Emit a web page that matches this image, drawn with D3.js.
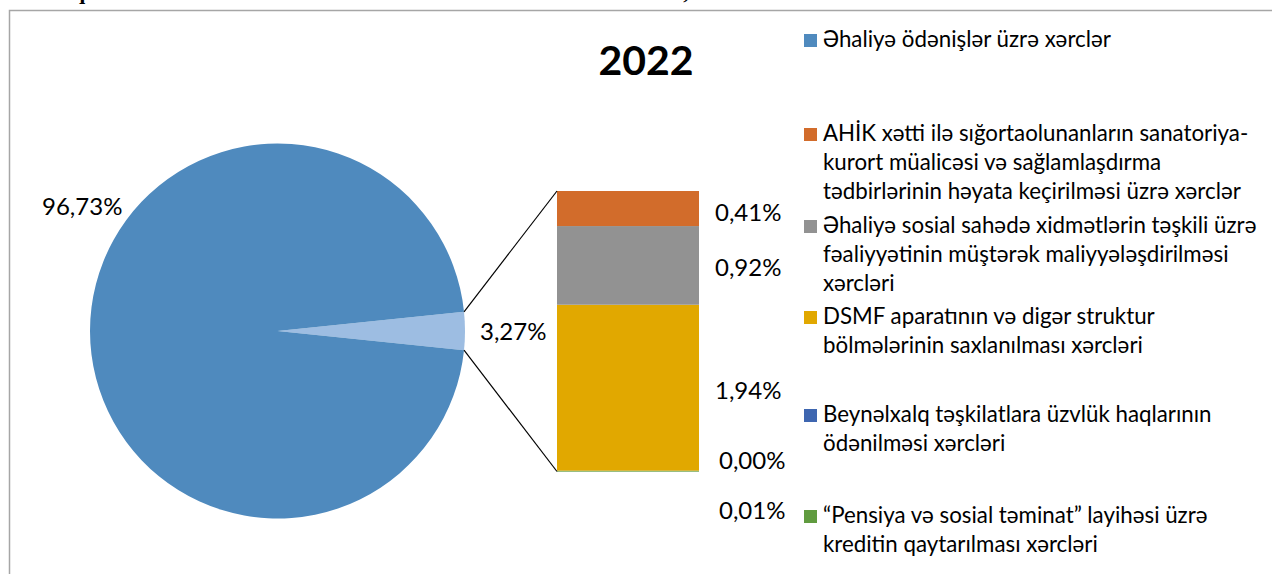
<!DOCTYPE html>
<html>
<head>
<meta charset="utf-8">
<script src="https://cdn.jsdelivr.net/npm/d3@7"></script>
<style>
  html, body { margin: 0; padding: 0; background: #fff; }
  svg { display: block; }
</style>
</head>
<body>
<svg id="svg"></svg>
<script>
// values (percent of total expenses, 2022)
var pieNames = ["Əhaliyə ödənişlər üzrə xərclər", "Digər"];
var pieValues = [96.73, 3.27];
var pieLabels = ["96,73%", "3,27%"];

var barNames = ["orange", "gray", "yellow", "blue", "green"];
var barValues = [0.41, 0.92, 1.94, 0.00, 0.01];
var barLabels = ["0,41%", "0,92%", "1,94%", "0,00%", "0,01%"];

var legendLines = [
    ["Əhaliyə ödənişlər üzrə xərclər"],
    ["AHİK xətti ilə sığortaolunanların sanatoriya-", "kurort müalicəsi və sağlamlaşdırma", "tədbirlərinin həyata keçirilməsi üzrə xərclər"],
    ["Əhaliyə sosial sahədə xidmətlərin təşkili üzrə", "fəaliyyətinin müştərək maliyyələşdirilməsi", "xərcləri"],
    ["DSMF aparatının və digər struktur", "bölmələrinin saxlanılması xərcləri"],
    ["Beynəlxalq təşkilatlara üzvlük haqlarının", "ödənilməsi xərcləri"],
    ["“Pensiya və sosial təminat” layihəsi üzrə", "kreditin qaytarılması xərcləri"]
];
var legendColors = ["#4f8abe", "#d26c2b", "#929292", "#e1a800", "#3e66b0", "#609b3f"];

var width = 1272, height = 574;
var svg = d3.select("#svg").attr("width", width).attr("height", height);

// heading of the page, mostly cut off at the top
svg.append("text")
    .attr("x", 40).attr("y", -1)
    .attr("font-family", "Liberation Serif").attr("font-weight", "bold")
    .attr("font-size", 22)
    .text("Diaqram 4.1. Dövlət Sosial Müdafiə Fondunun xərclərinin strukturu, faizlə");

// chart frame
svg.append("path")
    .attr("d", "M9.5," + height + "V10.5H" + width)
    .attr("fill", "none").attr("stroke", "#a6a6a6").attr("stroke-width", 1.5);

svg.append("text")
    .attr("x", 646).attr("y", 75)
    .attr("text-anchor", "middle")
    .attr("font-family", "Lato").attr("font-weight", "bold").attr("font-size", 41)
    .text("2022");

//////////////////////////////////////////////////////////////////////////////
// pie
var cx = 277.5, cy = 331, r = 187.5;
var total = d3.sum(pieValues);
var smallAngle = pieValues[1] / total * 2 * Math.PI;
var a0 = Math.PI / 2 - smallAngle / 2;

var pie = d3.pie().sort(null).startAngle(a0).endAngle(a0 + 2 * Math.PI);
var arcs = pie([pieValues[1], pieValues[0]]);
var arc = d3.arc().innerRadius(0).outerRadius(r);

var pg = svg.append("g").attr("transform", "translate(" + cx + "," + cy + ")");
pg.selectAll("path")
    .data(arcs)
    .enter()
    .append("path")
    .attr("d", arc)
    .attr("fill", function(d, i) { return i === 0 ? "#9dbde2" : "#4f8abe"; });

var labelFont = function(sel) {
    sel.attr("font-family", "Lato").attr("font-size", 24).attr("fill", "#000");
};

svg.append("text").call(labelFont)
    .attr("x", 42).attr("y", 215)
    .text(pieLabels[0]);
svg.append("text").call(labelFont)
    .attr("x", 480).attr("y", 340)
    .text(pieLabels[1]);

//////////////////////////////////////////////////////////////////////////////
// bar of pie
var barX = 557, barW = 142;
var barSum = d3.sum(barValues);
var y = d3.scaleLinear().domain([0, barSum]).range([471.5, 191]);

var segs = [];
var acc = 0;
for (var i = barValues.length - 1; i >= 0; --i) {
    segs.push({ name: barNames[i], v0: acc, v1: acc + barValues[i], label: barLabels[i], idx: i });
    acc += barValues[i];
}
var barColor = { orange: "#d26c2b", gray: "#929292", yellow: "#e1a800", blue: "#3e66b0", green: "#609b3f" };

svg.selectAll("rect.seg")
    .data(segs)
    .enter()
    .append("rect")
    .attr("class", "seg")
    .attr("x", barX).attr("width", barW)
    .attr("y", function(d) { return y(d.v1); })
    .attr("height", function(d) { return Math.max(y(d.v0) - y(d.v1), d.v1 > d.v0 ? 1 : 0); })
    .attr("fill", function(d) { return barColor[d.name]; });

// connector lines
var pTop = [cx + r * Math.sin(a0), cy - r * Math.cos(a0)];
var pBot = [cx + r * Math.sin(a0 + smallAngle), cy - r * Math.cos(a0 + smallAngle)];
svg.append("line")
    .attr("x1", pTop[0]).attr("y1", pTop[1]).attr("x2", barX).attr("y2", y(barSum))
    .attr("stroke", "#000").attr("stroke-width", 1.2);
svg.append("line")
    .attr("x1", pBot[0]).attr("y1", pBot[1]).attr("x2", barX).attr("y2", y(0))
    .attr("stroke", "#000").attr("stroke-width", 1.2);

// value labels, the tiny ones pushed apart like Excel does
var labelShift = [4, 3, 3, -10, 40];
svg.selectAll("text.val")
    .data(segs)
    .enter()
    .append("text")
    .attr("class", "val")
    .call(labelFont)
    .attr("x", function(d) { return d.idx >= 3 ? 719 : 715; })
    .attr("y", function(d) { return (y(d.v0) + y(d.v1)) / 2 + 8 + labelShift[d.idx]; })
    .text(function(d) { return d.label; });

//////////////////////////////////////////////////////////////////////////////
// legend
var legendY = [47, 141, 233, 324, 422, 523];
var lineH = 28.8;
var lg = svg.selectAll("g.leg")
    .data(legendLines)
    .enter()
    .append("g")
    .attr("class", "leg");

lg.append("rect")
    .attr("x", 804).attr("width", 13).attr("height", 13)
    .attr("y", function(d, i) { return legendY[i] - 13; })
    .attr("fill", function(d, i) { return legendColors[i]; });

lg.append("text")
    .attr("font-family", "Lato").attr("font-size", 22.3).attr("fill", "#000")
    .attr("y", function(d, i) { return legendY[i]; })
    .selectAll("tspan")
    .data(function(d) { return d; })
    .enter()
    .append("tspan")
    .attr("x", 823)
    .attr("dy", function(d, j) { return j === 0 ? 0 : lineH; })
    .text(function(d) { return d; });
</script>
</body>
</html>
